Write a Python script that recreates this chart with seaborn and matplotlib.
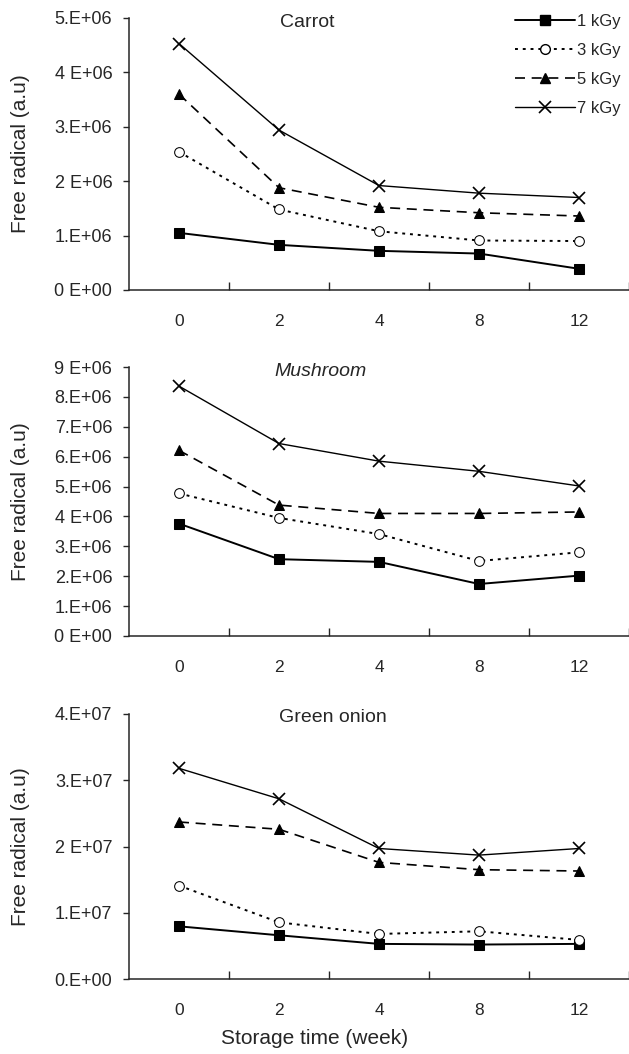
import matplotlib
matplotlib.use("Agg")
import matplotlib.pyplot as plt
import seaborn as sns
import pandas as pd
from matplotlib.lines import Line2D

weeks = ["0", "2", "4", "8", "12"]
doses = ["1 kGy", "3 kGy", "5 kGy", "7 kGy"]

carrot_1 = [1.05e6, 0.83e6, 0.72e6, 0.67e6, 0.39e6]
carrot_3 = [2.54e6, 1.48e6, 1.08e6, 0.91e6, 0.90e6]
carrot_5 = [3.60e6, 1.88e6, 1.52e6, 1.42e6, 1.36e6]
carrot_7 = [4.53e6, 2.94e6, 1.92e6, 1.78e6, 1.70e6]

mush_1 = [3.76e6, 2.57e6, 2.48e6, 1.74e6, 2.02e6]
mush_3 = [4.77e6, 3.95e6, 3.41e6, 2.51e6, 2.80e6]
mush_5 = [6.21e6, 4.38e6, 4.10e6, 4.10e6, 4.15e6]
mush_7 = [8.36e6, 6.44e6, 5.85e6, 5.51e6, 5.02e6]

onion_1 = [0.795e7, 0.66e7, 0.53e7, 0.52e7, 0.53e7]
onion_3 = [1.41e7, 0.855e7, 0.68e7, 0.72e7, 0.59e7]
onion_5 = [2.37e7, 2.26e7, 1.76e7, 1.65e7, 1.63e7]
onion_7 = [3.18e7, 2.72e7, 1.97e7, 1.87e7, 1.97e7]

carrot_ticks = ["0 E+00", "1.E+06", "2 E+06", "3.E+06", "4 E+06", "5.E+06"]
mush_ticks = ["0 E+00", "1.E+06", "2.E+06", "3.E+06", "4 E+06", "5.E+06",
              "6.E+06", "7.E+06", "8.E+06", "9 E+06"]
onion_ticks = ["0.E+00", "1.E+07", "2 E+07", "3.E+07", "4.E+07"]

panels = [
    ("Carrot", [carrot_1, carrot_3, carrot_5, carrot_7], 1e6, carrot_ticks, 0.356),
    ("Mushroom", [mush_1, mush_3, mush_5, mush_7], 1e6, mush_ticks, 0.384),
    ("Green onion", [onion_1, onion_3, onion_5, onion_7], 1e7, onion_ticks, 0.408),
]

styles = {
    "1 kGy": dict(marker="s", linestyle="-", lw=1.4, ms=7.5, mfc="black"),
    "3 kGy": dict(marker="o", linestyle=(0, (1.5, 2.5)), lw=1.4, ms=7, mfc="white"),
    "5 kGy": dict(marker="^", linestyle=(0, (6, 4)), lw=1.2, ms=7.5, mfc="black"),
    "7 kGy": dict(marker="x", linestyle="-", lw=1.0, ms=8, mfc="black", mew=1.2),
}

sns.set_style("ticks")
plt.rcParams["font.family"] = ["Liberation Sans", "DejaVu Sans"]

fig = plt.figure(figsize=(6.29, 10.54), dpi=100)
W, H = 629, 1054
boxes = [(18, 290), (367, 636), (714, 979)]
left, right = 129, 629

for (title, series, step, ticks, tx), (top, bot) in zip(panels, boxes):
    ax = fig.add_axes([left / W, 1 - bot / H, (right - left) / W, (bot - top) / H])
    for dose, vals in zip(doses, series):
        df = pd.DataFrame({"week": weeks, "value": vals})
        sns.lineplot(data=df, x="week", y="value", ax=ax, color="black",
                     mec="black", sort=False, **styles[dose])
    ax.set_xlim(-0.5, 4.5)
    ax.set_ylim(0, step * (len(ticks) - 1))
    ax.set_yticks([i * step for i in range(len(ticks))])
    ax.set_yticklabels(ticks, fontsize=13)
    ax.set_xticks(range(len(weeks)))
    ax.set_xticklabels(weeks, fontsize=12.5)
    ax.tick_params(axis="x", length=0, pad=17)
    ax.tick_params(axis="y", direction="out", length=4, width=1, pad=8)
    ax.set_xticks([i + 0.5 for i in range(len(weeks))], minor=True)
    ax.tick_params(axis="x", which="minor", direction="in", length=6, width=1)
    for s in ["top", "right"]:
        ax.spines[s].set_visible(False)
    for s in ["left", "bottom"]:
        ax.spines[s].set_linewidth(1.1)
    ax.set_xlabel("")
    ax.set_ylabel("Free radical (a.u)", fontsize=15)
    ax.yaxis.set_label_coords(-0.198, 0.5)
    ax.text(tx, 0.985, title, transform=ax.transAxes, ha="center", va="center",
            fontsize=14, style="italic" if title == "Mushroom" else "normal")
    if title == "Carrot":
        handles = [Line2D([], [], color="black", mec="black", **styles[d]) for d in doses]
        ax.legend(handles, doses, loc="upper left",
                  bbox_to_anchor=(508 / W, 1 - 7 / H), bbox_transform=fig.transFigure,
                  frameon=False, fontsize=12, handlelength=3.6, handletextpad=0.15,
                  labelspacing=0.85, borderaxespad=0)
    if title == "Green onion":
        ax.set_xlabel("Storage time (week)", fontsize=15)
        ax.xaxis.set_label_coords(0.372, -0.19)

fig.savefig("out.png", dpi=100)
